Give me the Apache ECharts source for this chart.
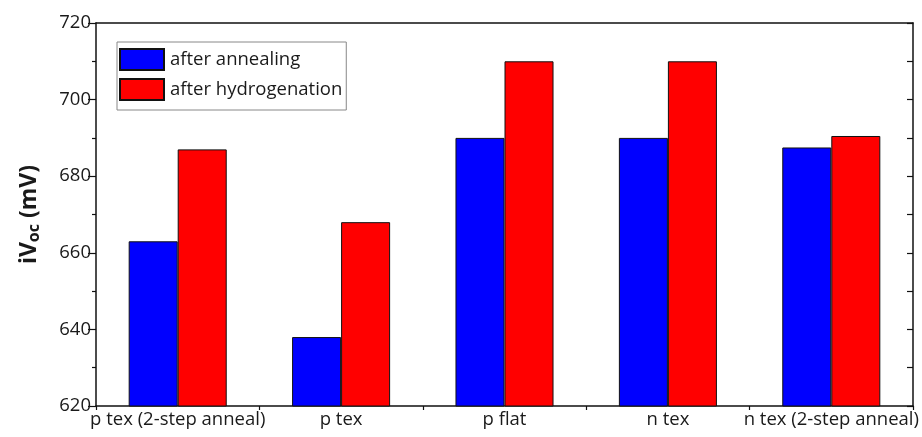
<!DOCTYPE html>
<html><head><meta charset="utf-8">
<script src="https://cdn.jsdelivr.net/npm/echarts@6/dist/echarts.min.js"></script>
<style>html,body{margin:0;padding:0;background:#fff}#c{width:922px;height:437px}</style>
</head><body><div id="c"></div>
<script>
const categories = ['p tex (2-step anneal)', 'p tex', 'p flat', 'n tex', 'n tex (2-step anneal)'];
const afterAnnealing = [663, 638, 690, 690, 687.5];
const afterHydrogenation = [687, 668, 710, 710, 690.5];
const seriesNames = ['after annealing', 'after hydrogenation'];
const yTicks = [620, 640, 660, 680, 700, 720];

const font = 'Open Sans';
const chart = echarts.init(document.getElementById('c'));
chart.setOption({
  animation: false,
  backgroundColor: '#fff',
  grid: { left: 96, right: 9, top: 23, bottom: 31 },
  legend: {
    left: 117, top: 42, orient: 'vertical',
    itemWidth: 44, itemHeight: 21, itemGap: 7,
    padding: [6, 4, 9, 2],
    borderColor: '#888', borderWidth: 1,
    icon: 'rect',
    textStyle: { fontFamily: font, fontSize: 18.5, color: '#1a1a1a', padding: [0, 0, 0, 1] },
    data: seriesNames
  },
  xAxis: [
    { type: 'category', data: categories, position: 'bottom',
      axisLine: { lineStyle: { color: '#111', width: 1.5 } },
      axisTick: { alignWithLabel: true, length: 7, lineStyle: { color: '#111', width: 1.2 } },
      axisLabel: { fontFamily: font, fontSize: 18.5, color: '#1a1a1a', margin: 4, interval: 0 } },
    { type: 'category', data: categories, position: 'top',
      axisLine: { lineStyle: { color: '#111', width: 1.5 } },
      axisTick: { alignWithLabel: true, inside: true, length: 6, lineStyle: { color: '#111', width: 1.2 } },
      axisLabel: { show: false } },
    { type: 'value', position: 'bottom', min: 0, max: categories.length, interval: 1,
      axisLine: { show: false },
      axisTick: { show: true, length: 4, lineStyle: { color: '#111', width: 1.2 } },
      axisLabel: { show: false }, splitLine: { show: false } }
  ],
  yAxis: [
    { type: 'value', min: yTicks[0], max: yTicks[yTicks.length - 1], interval: 20, position: 'left',
      name: '{a|iV}{b|oc}{a| (mV)}', nameLocation: 'middle', nameGap: 54, nameRotate: 90,
      nameTextStyle: { rich: {
        a: { fontFamily: font, fontSize: 23, fontWeight: 'bold', color: '#1a1a1a' },
        b: { fontFamily: font, fontSize: 16, fontWeight: 'bold', color: '#1a1a1a', padding: [10, 0, 0, 0] } } },
      axisLine: { show: true, lineStyle: { color: '#111', width: 1.5 } },
      axisTick: { show: true, length: 8, lineStyle: { color: '#111', width: 1.2 } },
      minorTick: { show: true, splitNumber: 2, length: 4, lineStyle: { color: '#111', width: 1.2 } },
      axisLabel: { fontFamily: font, fontSize: 18.5, color: '#1a1a1a', margin: 5 },
      splitLine: { show: false } },
    { type: 'value', min: yTicks[0], max: yTicks[yTicks.length - 1], interval: 10, position: 'right',
      axisLine: { show: true, lineStyle: { color: '#111', width: 1.5 } },
      axisTick: { show: true, inside: true, length: 6, lineStyle: { color: '#111', width: 1.2 } },
      axisLabel: { show: false }, splitLine: { show: false } }
  ],
  series: [
    { name: seriesNames[0], type: 'bar', data: afterAnnealing, barWidth: '30%', barGap: '0%',
      itemStyle: { color: '#0000ff', borderColor: '#111', borderWidth: 1 } },
    { name: seriesNames[1], type: 'bar', data: afterHydrogenation, barWidth: '30%', barGap: '0%',
      itemStyle: { color: '#ff0000', borderColor: '#111', borderWidth: 1 } }
  ]
});
</script></body></html>
